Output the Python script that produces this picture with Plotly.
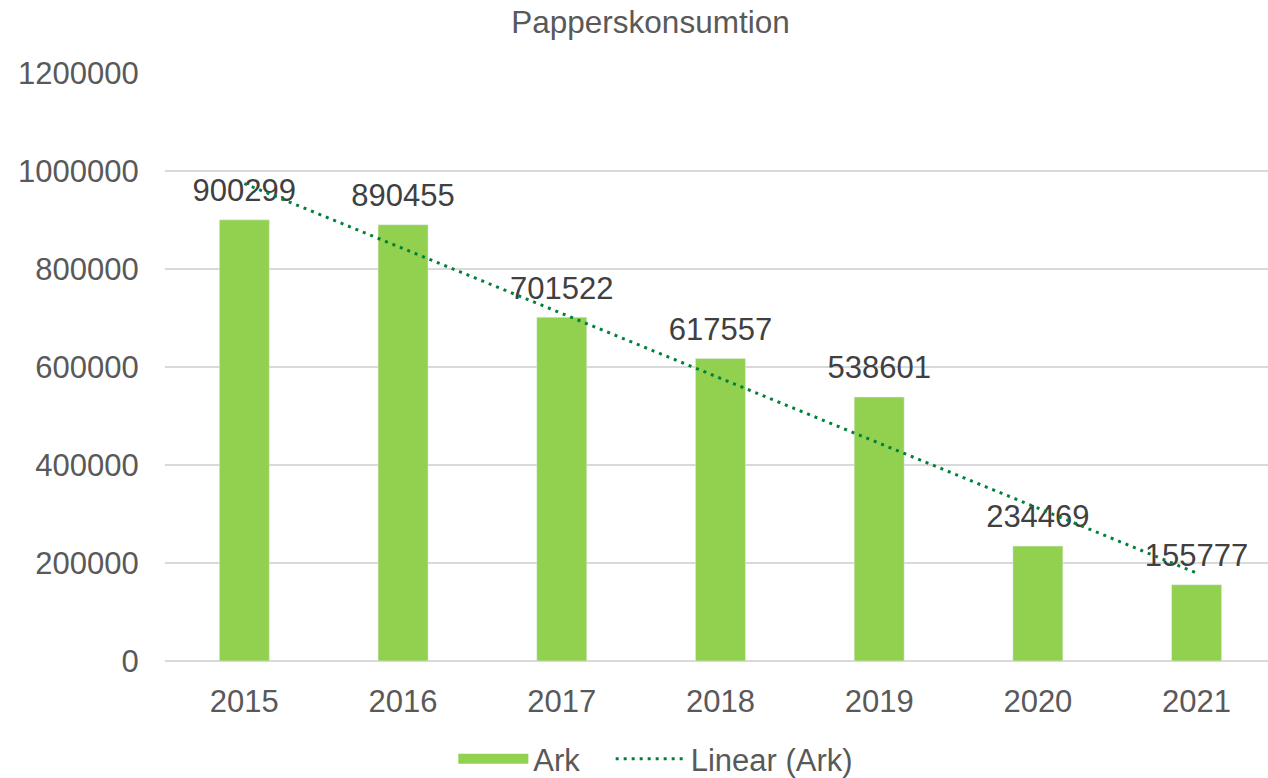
import numpy as np
import plotly.graph_objects as go

years = ["2015", "2016", "2017", "2018", "2019", "2020", "2021"]
ark = [900299, 890455, 701522, 617557, 538601, 234469, 155777]

BAR = "#92D050"
TREND = "#00803C"
FONT = "Liberation Sans, Arial, sans-serif"

# linear trendline, like Excel's "Linear (Ark)"
idx = np.arange(len(years))
k, m = np.polyfit(idx, ark, 1)
trend = k * idx + m

fig = go.Figure()
fig.add_trace(go.Bar(x=years, y=ark, name="Ark", marker_color=BAR, showlegend=False))
# legend entry for the bars (wide swatch like in Excel)
fig.add_trace(go.Scatter(
    x=[None], y=[None], mode="lines", name="Ark\u00a0\u00a0\u00a0",
    line=dict(color=BAR, width=16),
))
# data labels above the bars (invisible markers push the text up a bit)
fig.add_trace(go.Scatter(
    x=years, y=ark, mode="markers+text", text=[str(v) for v in ark],
    textposition="top center", showlegend=False, hoverinfo="skip",
    marker=dict(size=16, opacity=0), cliponaxis=False,
    textfont=dict(size=31, color="#404040", family=FONT),
))
# trendline drawn on top of the labels, as in Excel
fig.add_trace(go.Scatter(
    x=years, y=trend, mode="lines", name="Linear (Ark)",
    line=dict(color=TREND, width=3, dash="3px,5px"),
))

fig.update_layout(
    width=1268, height=778,
    paper_bgcolor="white", plot_bgcolor="white",
    margin=dict(l=165, r=0, t=73, b=117, autoexpand=False),
    font=dict(family=FONT, size=31, color="#595959"),
    title=dict(text="Papperskonsumtion", x=0.513, xref="container", xanchor="center",
               y=0.972, yanchor="middle", font=dict(size=31.5, color="#595959")),
    bargap=0.685,
    showlegend=True,
    legend=dict(orientation="h", x=0.445, xanchor="center", y=-0.1667, yanchor="middle",
                itemwidth=70, font=dict(size=31, color="#595959")),
)
fig.update_xaxes(type="category", range=[-0.5, 6.45], showgrid=False, showline=False,
                 automargin=False, ticks="outside", ticklen=13,
                 tickcolor="rgba(0,0,0,0)")
fig.update_yaxes(range=[0, 1200000], dtick=200000, showgrid=True, automargin=False,
                 gridcolor="#D9D9D9", gridwidth=2, zeroline=True,
                 zerolinecolor="#D9D9D9", zerolinewidth=2, showline=False,
                 tickformat="d", ticks="outside", ticklen=19,
                 tickcolor="rgba(0,0,0,0)")

fig.write_html("out.html", config={"displayModeBar": False},
               post_script="document.body.style.margin='0';")
